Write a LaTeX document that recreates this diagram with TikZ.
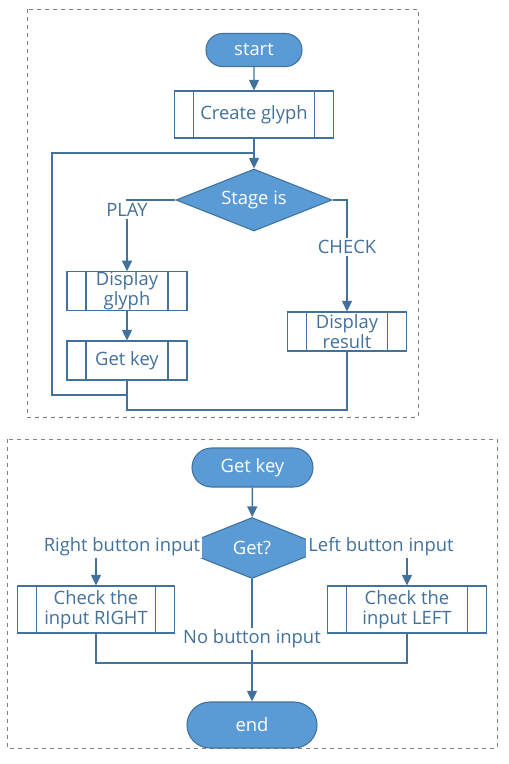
\documentclass[tikz,border=0pt]{standalone}
\usepackage{fontspec}
\setmainfont{Open Sans}
\usetikzlibrary{shapes.geometric,shapes.misc,arrows.meta}
\definecolor{lc}{RGB}{65,113,156}
\definecolor{fb}{RGB}{91,155,213}
\definecolor{dg}{RGB}{128,128,128}
\begin{document}
\begin{tikzpicture}[x=0.75pt,y=-0.75pt,
  font=\fontsize{13.8pt}{15pt}\selectfont,
  ln/.style={draw=lc,line width=1.1pt},
  arr/.style={ln,-{Triangle[width=7.5pt,length=8pt]}},
  term/.style={rounded rectangle,draw=lc,line width=0.8pt,fill=fb,text=white,inner sep=0pt},
  dec/.style={diamond,shape aspect=2.5,draw=lc,line width=0.8pt,fill=fb,text=white,inner sep=0pt},
  subr/.style={rectangle,draw=lc,line width=0.8pt,fill=white,text=lc,inner sep=0pt,align=center,
    path picture={\draw[lc,line width=0.8pt]
      ([xshift=14.25pt]path picture bounding box.north west) -- ([xshift=14.25pt]path picture bounding box.south west)
      ([xshift=-14.25pt]path picture bounding box.north east) -- ([xshift=-14.25pt]path picture bounding box.south east);}},
  lbl/.style={fill=white,text=lc,inner sep=1.5pt},
  frame/.style={draw=dg,dashed,line width=0.6pt}
]
\useasboundingbox (0,0) rectangle (509,764);
\draw[frame] (27,9) rectangle (418,417);
\draw[frame] (7,439) rectangle (497,748);

% top flow
\node[term,minimum width=72pt,minimum height=24.75pt] (start) at (254,50) {start};
\node[subr,minimum width=119.25pt,minimum height=35.25pt] (create) at (254,114.5) {Create glyph};
\node[dec,minimum width=117pt,minimum height=46.5pt] (d1) at (254,200) {Stage is};
\node[subr,minimum width=90pt,minimum height=28.5pt] (dispglyph) at (127,291) {Display\\glyph};
\node[subr,minimum width=90pt,minimum height=29.25pt] (getkey1) at (127,360.5) {Get key};
\node[subr,minimum width=89.25pt,minimum height=29.25pt] (dispresult) at (347,331.5) {Display\\result};

\coordinate (c1) at (52,153);
\coordinate (c2) at (127,395);
\coordinate (c3) at (127,410);

\draw[arr] (start) -- (create);
\draw[arr] (create.south) -- (d1.north);
\draw[ln] (getkey1.south) -- (c2) -| (c1) -- (c1 -| d1.north);
\draw[ln] (dispresult.south) |- (c3) -- (c2);
\draw[arr] (dispglyph) -- (getkey1);
\draw[arr] (d1.west) -| (dispglyph.north);
\draw[arr] (d1.east) -| (dispresult.north);
\node[lbl] (play) at (127,210) {PLAY};
\node[lbl] (check) at (347,247) {CHECK};

% bottom flow
\node[term,minimum width=90.75pt,minimum height=29.25pt] (gk2) at (252.5,467.5) {Get key};
\node[dec,minimum width=114pt,minimum height=45.75pt] (d2) at (252,548) {Get?};
\node[subr,minimum width=117.75pt,minimum height=35.25pt] (checkR) at (96,609.5) {Check the\\input RIGHT};
\node[subr,minimum width=119.25pt,minimum height=35.25pt] (checkL) at (407,609.5) {Check the\\input LEFT};
\node[term,minimum width=97.5pt,minimum height=34.5pt] (endn) at (252,725) {end};
\coordinate (m) at (252,663);

\draw[arr] (gk2) -- (d2);
\draw[arr] (d2.west) -| (checkR.north);
\draw[arr] (d2.east) -| (checkL.north);
\draw[arr] (d2.south) -- (endn.north);
\draw[ln] (checkR.south) |- (m);
\draw[ln] (checkL.south) |- (m);
\node[lbl] (rbi) at (122,547) {Right button input};
\node[lbl] (lbi) at (381,547) {Left button input};
\node[lbl] (nbi) at (252,639) {No button input};
\end{tikzpicture}
\end{document}
